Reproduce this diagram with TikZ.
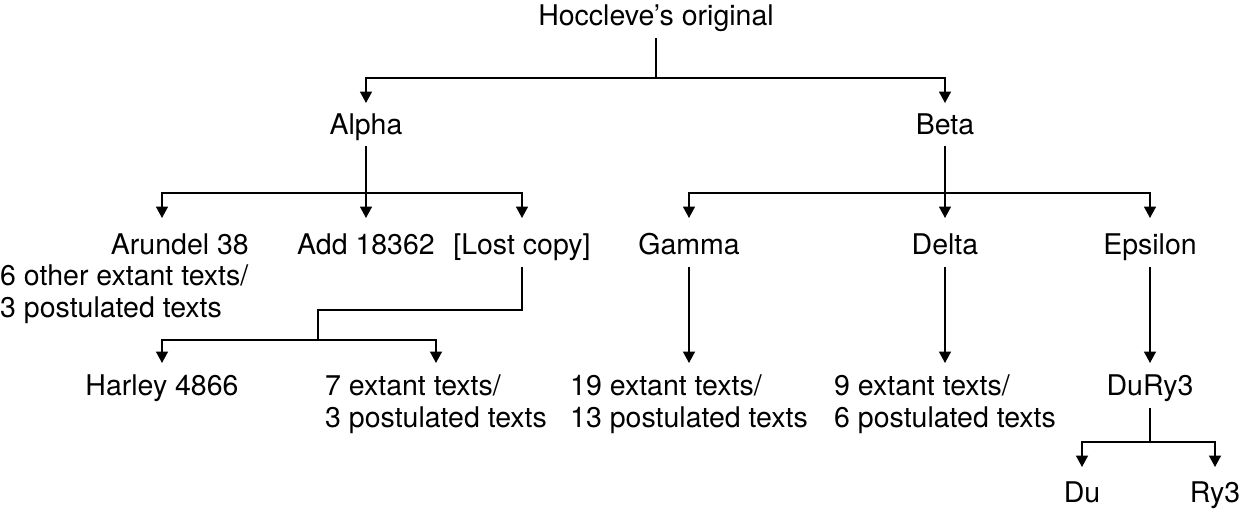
\documentclass[tikz,border=0pt]{standalone}
\usepackage{fontspec}
\setmainfont{TeX Gyre Heros}
\usetikzlibrary{arrows.meta}
\begin{document}
\begin{tikzpicture}[x=1pt,y=-1pt,
  txt/.style={inner sep=0pt, text height=20.5pt, text depth=0pt, anchor=north, font=\fontsize{28.5pt}{32pt}\selectfont},
  twoline/.style={txt, align=left, text height=52.5pt},
  ln/.style={line width=1.6pt, shorten <=12pt},
  arr/.style={line width=1.6pt, -{Triangle[length=11.5pt,width=12pt]}, shorten >=13pt}]
\useasboundingbox (0,0) rectangle (1243,509);
% level 0
\node[txt] (hoc) at (656,5) {Hoccleve’s original};
% level 1
\node[txt] (alpha) at (366,114) {Alpha};
\node[txt] (beta) at (945,114) {Beta};
% level 2
\node[txt,anchor=north east] (arundel) at (249,234) {Arundel 38};
\node[twoline,anchor=north west] (arundelx) at (0,265) {6 other extant texts/\\3 postulated texts};
\node[txt] (add) at (366,234) {Add 18362};
\node[txt] (lost) at (522,234) {[Lost copy]};
\node[txt] (gamma) at (689,234) {Gamma};
\node[txt] (delta) at (945,234) {Delta};
\node[txt] (epsilon) at (1150,234) {Epsilon};
% level 3
\node[txt] (harley) at (162,375) {Harley 4866};
\node[twoline] (seven) at (436,375) {7 extant texts/\\3 postulated texts};
\node[twoline] (nineteen) at (689,375) {19 extant texts/\\13 postulated texts};
\node[twoline] (nine) at (945,375) {9 extant texts/\\6 postulated texts};
\node[txt] (dury) at (1150,375) {DuRy3};
% level 4
\node[txt] (du) at (1082,482) {Du};
\node[txt] (ry) at (1215,482) {Ry3};
% junction coordinates
\coordinate (j0) at (656,78);
\coordinate (ja) at (366,193);
\coordinate (jb) at (945,193);
\coordinate (jl1) at (522,310);
\coordinate (jl2) at (318,310);
\coordinate (jl3) at (318,340);
\coordinate (jd) at (1150,442);
\coordinate (ar) at (162,234);
% connectors
\draw[ln] (hoc.south) -- (j0);
\draw[arr,shorten >=11pt] (j0) -| (alpha.north);
\draw[arr,shorten >=11pt] (j0) -| (beta.north);
\draw[ln,shorten <=11pt] (alpha.south) -- (ja);
\draw[arr,shorten >=16pt] (ja) -| (ar);
\draw[arr,shorten >=16pt] (ja) -- (add.north);
\draw[arr,shorten >=16pt] (ja) -| (lost.north);
\draw[ln,shorten <=11pt] (beta.south) -- (jb);
\draw[arr,shorten >=16pt] (jb) -| (gamma.north);
\draw[arr,shorten >=16pt] (jb) -- (delta.north);
\draw[arr,shorten >=16pt] (jb) -| (epsilon.north);
\draw[ln] (lost.south) -- (jl1) -- (jl2) -- (jl3);
\draw[arr,shorten >=12pt] (jl3) -| (harley.north);
\draw[arr,shorten >=12pt] (jl3) -| (seven.north);
\draw[arr,shorten <=12pt,shorten >=12pt] (gamma.south) -- (nineteen.north);
\draw[arr,shorten <=12pt,shorten >=12pt] (delta.south) -- (nine.north);
\draw[arr,shorten <=12pt,shorten >=12pt] (epsilon.south) -- (dury.north);
\draw[ln] (dury.south) -- (jd);
\draw[arr,shorten >=15pt] (jd) -| (du.north);
\draw[arr,shorten >=15pt] (jd) -| (ry.north);
\end{tikzpicture}
\end{document}
